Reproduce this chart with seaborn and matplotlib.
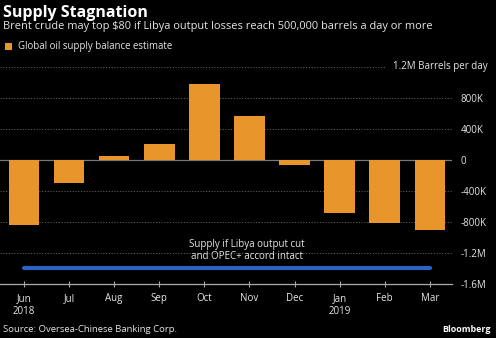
import matplotlib
matplotlib.use("Agg")
import matplotlib.pyplot as plt
import seaborn as sns
import numpy as np
import pandas as pd

months = ["Jun", "Jul", "Aug", "Sep", "Oct", "Nov", "Dec", "Jan", "Feb", "Mar"]
tick_labels = ["Jun\n2018", "Jul", "Aug", "Sep", "Oct", "Nov", "Dec", "Jan\n2019", "Feb", "Mar"]
balance = [-840000, -300000, 50000, 210000, 975000, 560000, -65000, -690000, -820000, -910000]
libya_supply = [-1400000] * 10
y_ticks = [1200000, 800000, 400000, 0, -400000, -800000, -1200000, -1600000]
y_tick_labels = ["", "800K", "400K", "0", "-400K", "-800K", "-1.2M", "-1.6M"]

BG = "black"
ORANGE = "#e8952c"
BLUE = "#2c62c4"
TXT = "#e6e6e6"
GRID = "#5a5a5a"

sns.set_style("dark")
plt.rcParams["font.family"] = ["Open Sans", "DejaVu Sans"]

W, H = 496, 338
fig = plt.figure(figsize=(W / 100, H / 100), dpi=100, facecolor=BG)
ax = fig.add_axes([0 / W, (H - 284) / H, 452 / W, (284 - 66.7) / H])
ax.set_facecolor(BG)

df = pd.DataFrame({"month": months, "balance": balance})
sns.barplot(data=df, x="month", y="balance", order=months, color=ORANGE,
            saturation=1, width=0.68, ax=ax, zorder=3, edgecolor="none", linewidth=0)
sns.lineplot(x=np.arange(len(months)), y=libya_supply, color=BLUE, linewidth=3,
             ax=ax, zorder=4)

ax.set_xlim(-0.53, 9.49)
ax.set_ylim(-1600000, 1200000)

# gridlines
for t in y_ticks:
    if t == -1600000:
        continue
    if t == 0:
        ax.axhline(0, color="#777777", lw=0.9, zorder=2)
    elif t == 1200000:
        ax.axhline(t, xmax=385 / 452, color=GRID, lw=0.8, ls=(0, (1, 1.5)), zorder=1)
    else:
        ax.axhline(t, color=GRID, lw=0.8, ls=(0, (1, 1.5)), zorder=1)

ax.grid(False)
for s in ["top", "left", "right"]:
    ax.spines[s].set_visible(False)
ax.spines["bottom"].set_color("#aaaaaa")
ax.spines["bottom"].set_linewidth(0.9)

ax.set_xticks(range(len(months)))
ax.set_xticklabels(tick_labels, color=TXT, fontsize=7.0, linespacing=1.2)
ax.tick_params(axis="x", direction="inout", length=5, width=0.8, color="#aaaaaa", pad=4, bottom=True)
ax.yaxis.tick_right()
ax.set_yticks(y_ticks)
ax.set_yticklabels(y_tick_labels, color=TXT, fontsize=7.0)
ax.tick_params(axis="y", length=0, pad=6, right=True, left=False)
ax.set_xlabel("")
ax.set_ylabel("")

fig.text(393 / W, 1 - 66.7 / H, "1.2M Barrels per day", color=TXT, fontsize=7.0, va="center", ha="left")

ax.text(4.95, -1170000, "Supply if Libya output cut\nand OPEC+ accord intact", color=TXT,
        fontsize=7.0, ha="center", va="center", linespacing=1.1, zorder=5)

fig.text(3 / W, 1 - 13 / H, "Supply Stagnation", color="white", fontsize=11.5,
         fontweight="bold", va="center", ha="left")
fig.text(3 / W, 1 - 27 / H, "Brent crude may top $80 if Libya output losses reach 500,000 barrels a day or more",
         color=TXT, fontsize=7.95, va="center", ha="left")
fig.patches.append(plt.Rectangle((5 / W, 1 - 50 / H), 7 / W, 7 / H, transform=fig.transFigure,
                                 facecolor=ORANGE, edgecolor="none"))
fig.text(18 / W, 1 - 46.5 / H, "Global oil supply balance estimate", color=TXT, fontsize=6.9,
         va="center", ha="left")
fig.text(3 / W, 1 - 329 / H, "Source: Oversea-Chinese Banking Corp.", color=TXT, fontsize=6.8,
         va="center", ha="left")
fig.text(491 / W, 1 - 329 / H, "Bloomberg", color="white", fontsize=6.4, fontweight="bold",
         va="center", ha="right")

fig.savefig("out.png", dpi=100, facecolor=BG)
